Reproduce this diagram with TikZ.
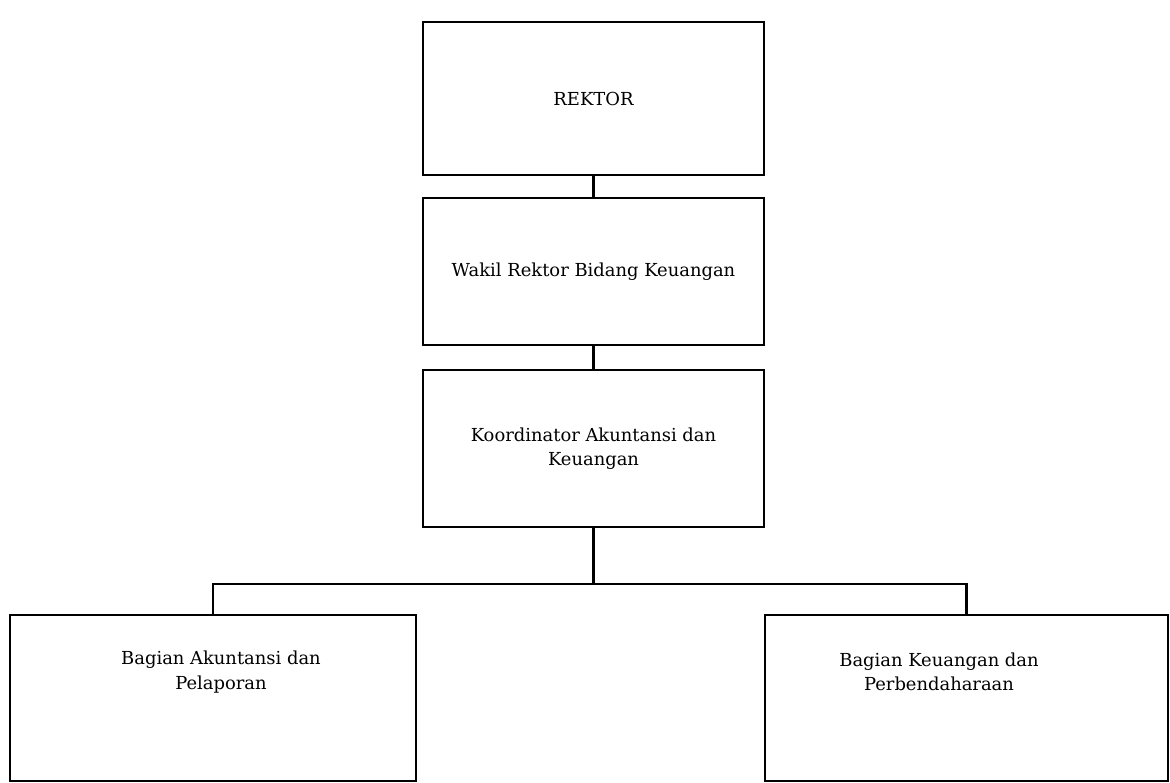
\documentclass[tikz,border=0pt]{standalone}
\usepackage{fontspec}
\setmainfont{DejaVu Serif}
\usetikzlibrary{calc}

\tikzset{
 unit/.style={draw, line width=1.2pt, inner sep=0pt, align=center,
   font=\fontsize{10.2}{14}\selectfont},
 txt/.style={inner sep=0pt, align=center, font=\fontsize{10.2}{14}\selectfont},
 link/.style={line width=1.2pt}
}

\begin{document}
\begin{tikzpicture}[x=0.02cm, y=-0.02cm]
\def\px{0.02cm}
\def\w{341*\px}
\useasboundingbox (0,0) rectangle (1170,782);

% top of the chart
\node[unit, minimum width=\w, minimum height=153*\px] (rektor) at (593.5,98.5) {REKTOR};
\node[unit, minimum width=\w, minimum height=147*\px] (wakil) at (593.5,271.5) {Wakil Rektor Bidang Keuangan};
\node[unit, minimum width=\w, minimum height=157*\px] (koord) at (593.5,448.5) {Koordinator Akuntansi dan\\Keuangan};

% the two units below
\node[unit, anchor=north, minimum width=406*\px, minimum height=166*\px] (akt) at (213,614) {};
\node[unit, anchor=north, minimum width=403*\px, minimum height=166*\px] (keu) at (966.5,614) {};
\node[txt] (akt-txt) at (221,672) {Bagian Akuntansi dan\\Pelaporan};
\node[txt] (keu-txt) at (939,672) {Bagian Keuangan dan\\Perbendaharaan};

\coordinate (hub) at ($(koord.south)+(0,56)$);

\draw[link] (rektor) -- (wakil);
\draw[link] (wakil) -- (koord);
\draw[link] (koord) -- (hub);
\draw[link] (akt) |- (hub) -| (keu);

\end{tikzpicture}
\end{document}
